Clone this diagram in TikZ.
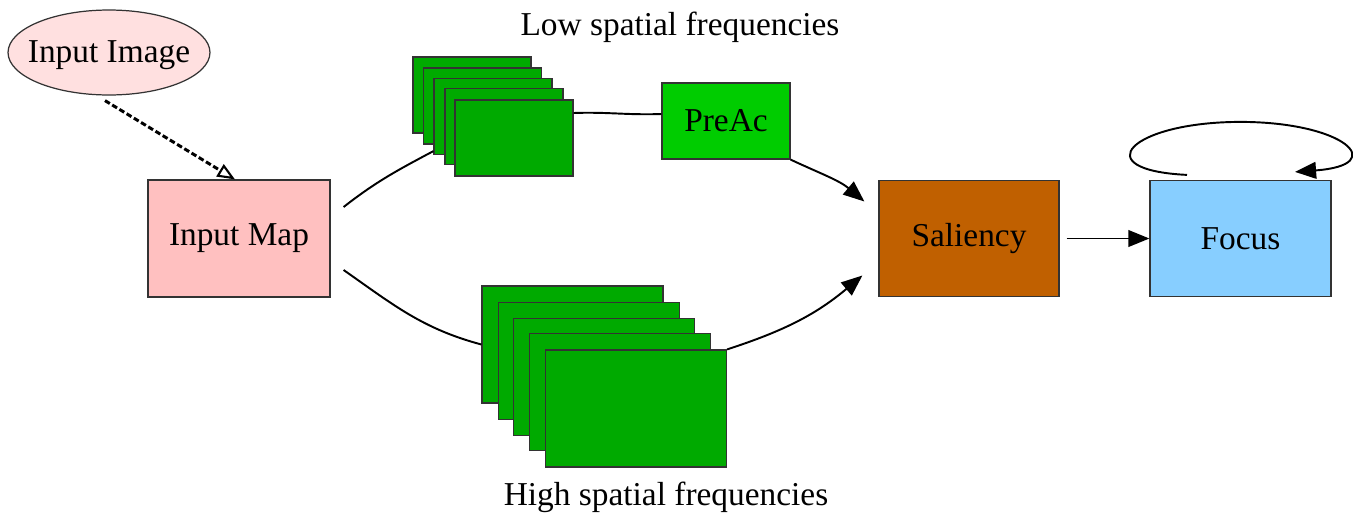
\documentclass[tikz,border=0pt]{standalone}
\usepackage{fontspec}
\setmainfont{Liberation Serif}
\usetikzlibrary{arrows.meta,shapes.geometric}
\definecolor{imgpink}{HTML}{FFE0E0}
\definecolor{mappink}{HTML}{FFC0C0}
\definecolor{stackgreen}{HTML}{00AA00}
\definecolor{preacgreen}{HTML}{00CC00}
\definecolor{salbrown}{HTML}{C06000}
\definecolor{focusblue}{HTML}{87CEFF}
\tikzset{
  box/.style={draw=black!80, line width=0.7pt, inner sep=0pt, font=\fontsize{19}{22}\selectfont},
  lostack/.style={box, fill=stackgreen, minimum width=2.36cm, minimum height=1.52cm},
  histack/.style={box, fill=stackgreen, minimum width=3.62cm, minimum height=2.34cm},
  lbl/.style={inner sep=0pt, font=\fontsize{19}{22}\selectfont},
  edge/.style={line width=1.1pt, -{Triangle[length=12pt,width=9.5pt]}},
  plain/.style={line width=1.1pt},
  dasharrow/.style={line width=1.7pt, dash pattern=on 3.2pt off 1.6pt, -{Triangle[open,length=10pt,width=8pt,line width=1.2pt]}}
}
\begin{document}
\begin{tikzpicture}[x=0.02cm, y=-0.02cm]
\useasboundingbox (0,0) rectangle (1353,518);
% nodes
\node[box, ellipse, fill=imgpink, minimum width=4.04cm, minimum height=1.7cm, text height=1.2ex, text depth=0.2ex] (img) at (109,52.5) {\makebox[0pt]{\raisebox{-3.4pt}{Input Image}}};
\node[box, fill=mappink, minimum width=3.64cm, minimum height=2.34cm] (map) at (239,238.5) {Input Map};
\node[lostack] (lo1) at (472,95) {};
\node[lostack] (lo2) at (482.5,106) {};
\node[lostack] (lo3) at (493,116.5) {};
\node[lostack] (lo4) at (504,126.5) {};
\node[lostack] (lo5) at (514,138) {};
\node[box, fill=preacgreen, minimum width=2.56cm, minimum height=1.52cm] (preac) at (726,121) {PreAc};
\node[histack] (hi1) at (572.5,344.5) {};
\node[histack] (hi2) at (589,361) {};
\node[histack] (hi3) at (604,377) {};
\node[histack] (hi4) at (620,392) {};
\node[histack] (hi5) at (636,408.5) {};
\node[box, fill=salbrown, minimum width=3.6cm, minimum height=2.32cm] (sal) at (969,238.5) {Saliency};
\node[box, fill=focusblue, minimum width=3.62cm, minimum height=2.32cm] (focus) at (1240.5,238.5) {Focus};
\node[lbl] (lowlbl) at (680,27) {Low spatial frequencies};
\node[lbl] (highlbl) at (666,497) {High spatial frequencies};
% connectors
\draw[dasharrow] ([xshift=-0.08cm,yshift=-0.1cm]img.south) -- ([xshift=-0.08cm]map.north);
\draw[plain] ([xshift=0.26cm,yshift=0.63cm]map.east) to[out=38,in=-152] ([yshift=0.08cm]lo3.south west);
\draw[plain] ([xshift=0.26cm,yshift=-0.63cm]map.east) to[out=-35,in=165] (hi1.west);
\draw[plain] ([yshift=0.5cm]lo5.east) to[out=2,in=182] ([yshift=0.14cm]preac.west);
\draw[edge] (preac.south east) to[out=-25,in=140] ([xshift=-0.28cm,yshift=0.74cm]sal.west);
\draw[edge] (hi5.north east) to[out=18,in=-140] ([xshift=-0.32cm,yshift=-0.74cm]sal.west);
\draw[edge] ([xshift=0.14cm]sal.east) -- (focus.west);
\draw[edge] ([shift={(-53.5,-5)}]focus.north)
  .. controls (1085,170) and (1130,122) .. ([shift={(0,-58)}]focus.north)
  .. controls (1345,122) and (1390,165) .. ([shift={(54.5,-8)}]focus.north);
\end{tikzpicture}
\end{document}
